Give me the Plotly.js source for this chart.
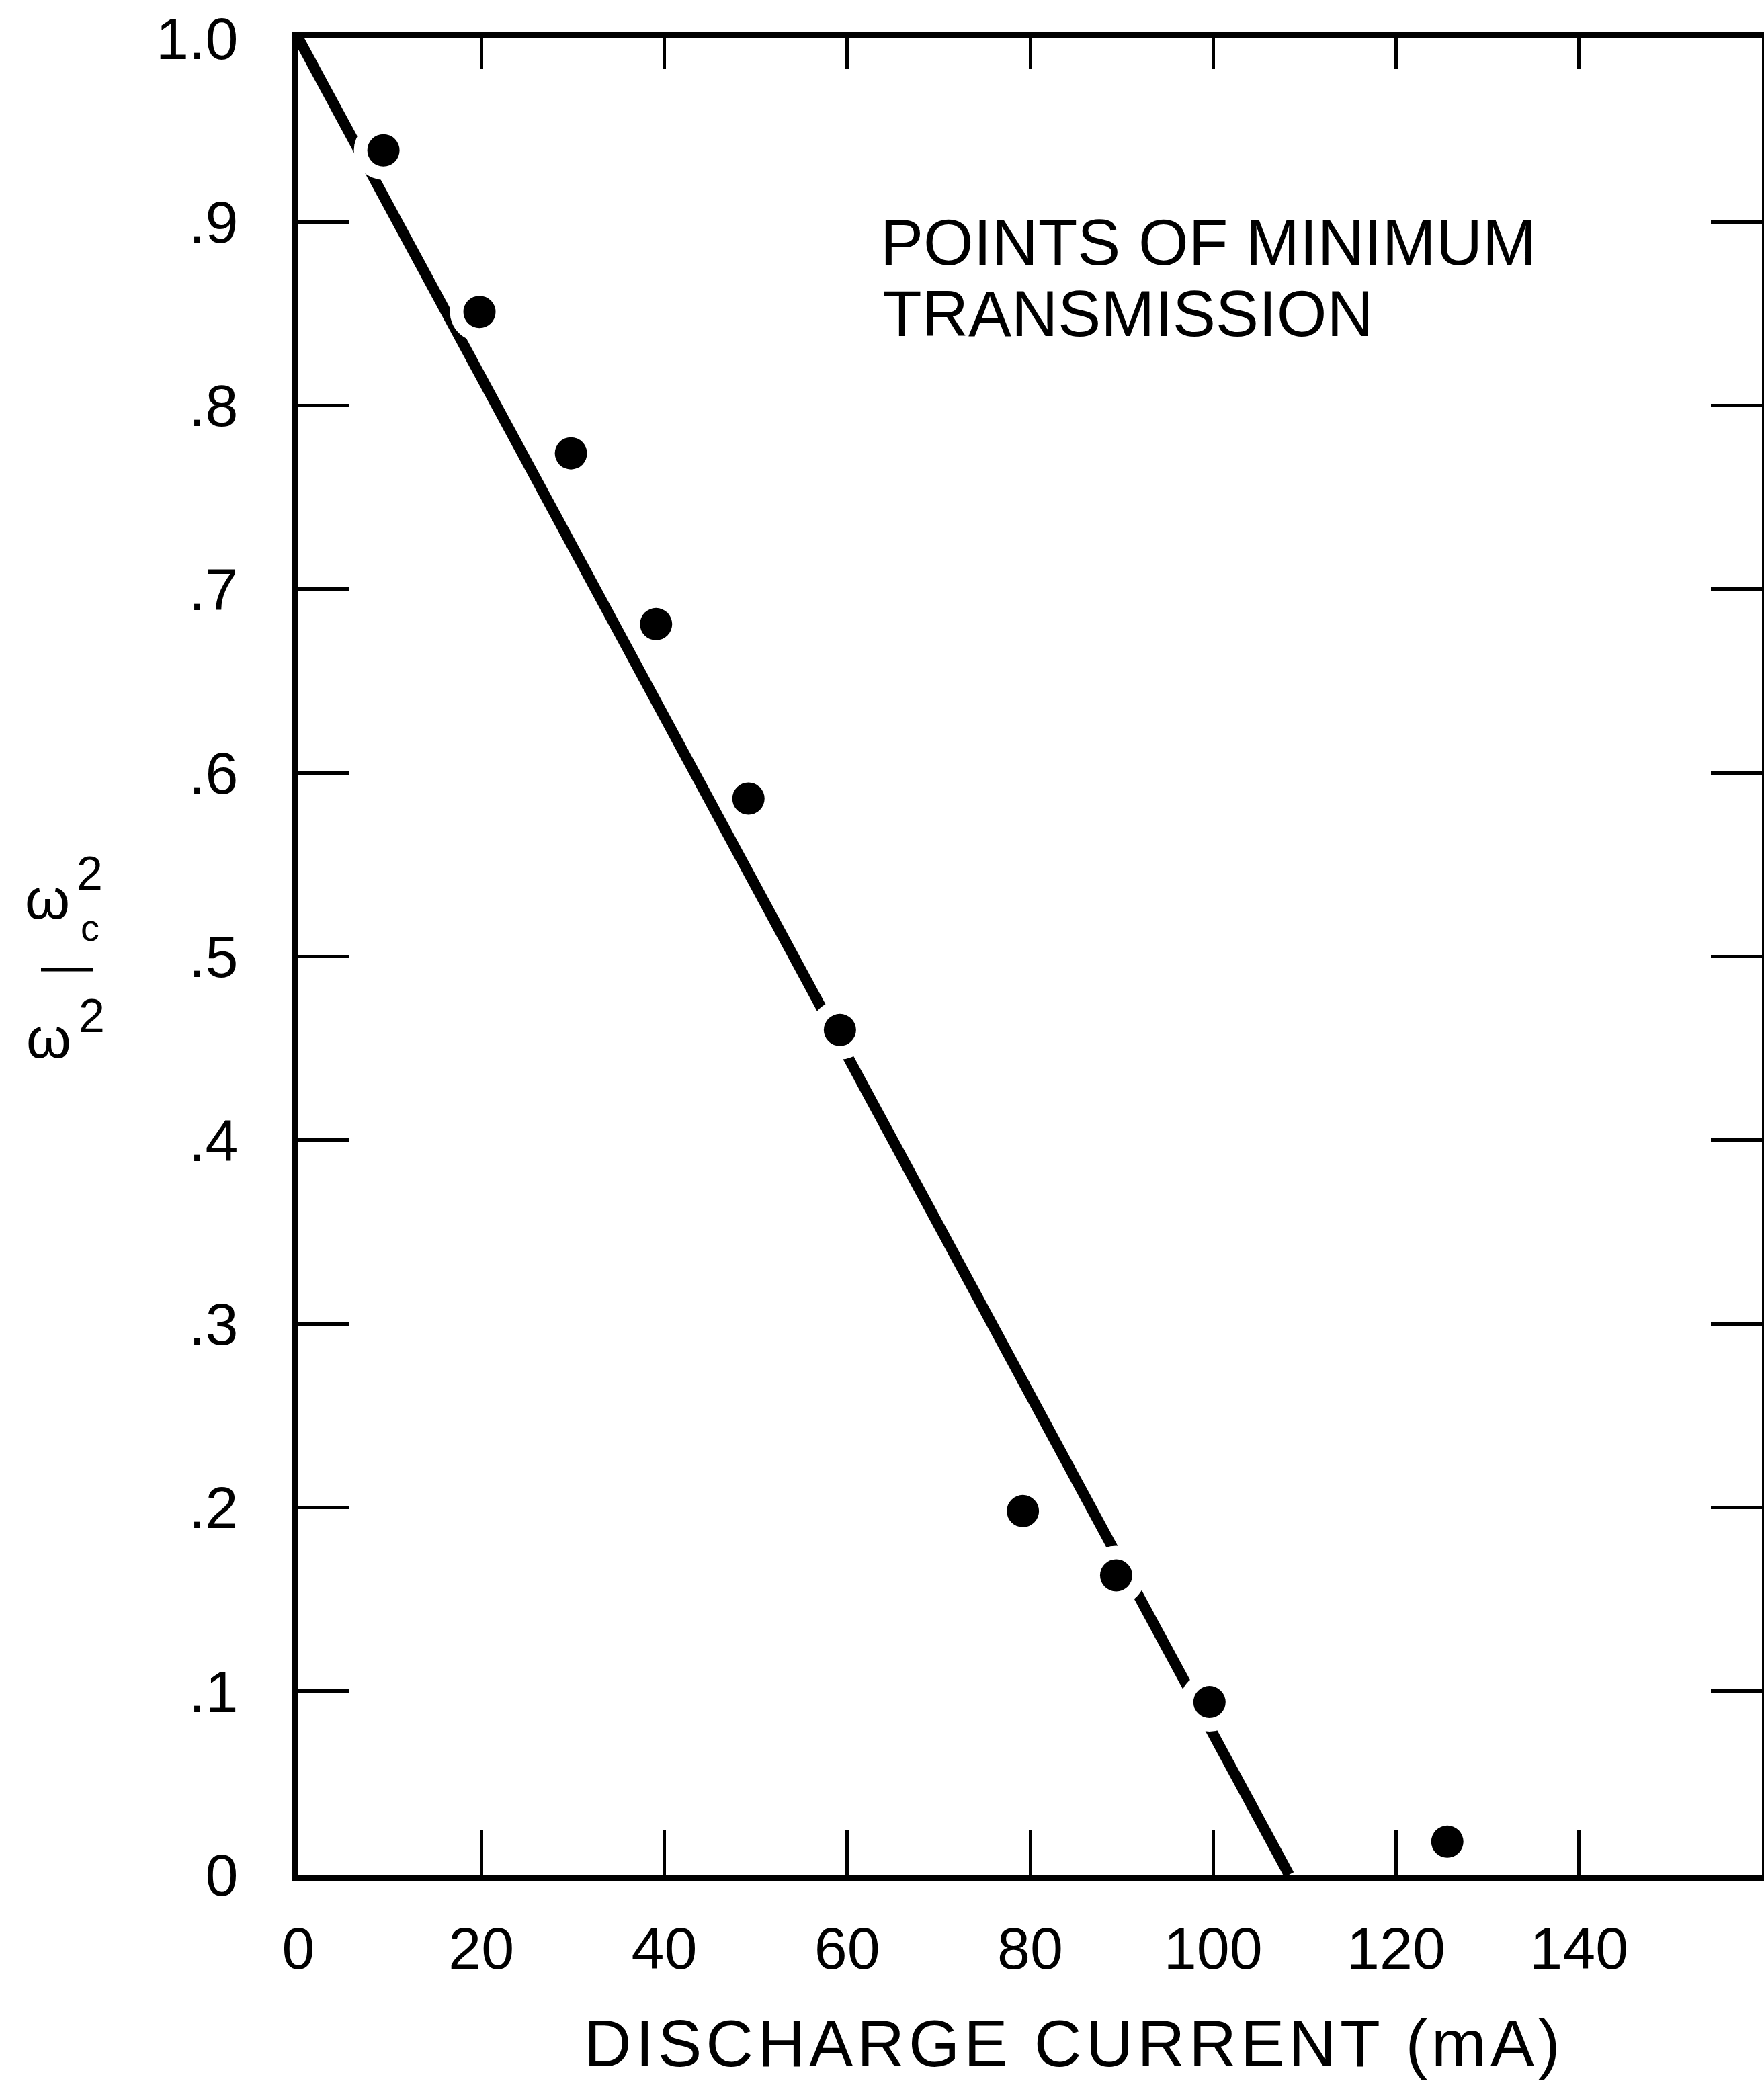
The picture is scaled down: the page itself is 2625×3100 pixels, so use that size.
<!DOCTYPE html>
<html><head><meta charset="utf-8">
<script src="https://cdn.plot.ly/plotly-3.0.1.min.js"></script>
<style>html,body{margin:0;padding:0;background:#fff}</style>
</head><body>
<div id="chart" style="width:2625px;height:3100px"></div>
<script>
const currentMA = [9.3, 19.8, 29.8, 39.1, 49.2, 59.2, 79.2, 89.4, 99.6, 125.6];
const freqRatio = [0.939, 0.851, 0.774, 0.681, 0.586, 0.460, 0.198, 0.163, 0.094, 0.018];
// Straight-line fit drawn through the points
const fitCurrent = [0, 108.3];
const fitRatio = [1.0, 0.0];
// Tick labels
const xTickVals = [0, 20, 40, 60, 80, 100, 120, 140];
const xTickText = ['0', '20', '40', '60', '80', '100', '120', '140'];
const yTickVals = [0, 0.1, 0.2, 0.3, 0.4, 0.5, 0.6, 0.7, 0.8, 0.9, 1.0];
const yTickText = ['0', '.1', '.2', '.3', '.4', '.5', '.6', '.7', '.8', '.9', '1.0'];

const FONT = 'Liberation Sans, Arial, Helvetica, sans-serif';
const ML = 444, MR = 3, MT = 57, MB = 310, W = 2625, H = 3100;

const traces = [
  {x: fitCurrent, y: fitRatio, mode: 'lines', line: {color: '#000', width: 16}, hoverinfo: 'skip'},
  {x: currentMA, y: freqRatio, mode: 'markers', marker: {color: '#fff', size: 88, line: {width: 0}}, hoverinfo: 'skip'},
  {x: currentMA, y: freqRatio, mode: 'markers', marker: {color: '#000', size: 48, line: {width: 0}}}
];

const P = (px) => (px - ML) / (W - ML - MR);
const Q = (py) => (H - MB - py) / (H - MT - MB);

const axisCommon = {
  tickmode: 'array', ticks: 'inside', tickwidth: 5, tickcolor: '#000',
  showline: true, linewidth: 10, linecolor: '#000',
  showgrid: false, zeroline: false, tickfont: {family: FONT, size: 88, color: '#000'}
};

const layout = {
  width: W, height: H,
  margin: {l: ML, r: MR, t: MT, b: MB, pad: 0},
  paper_bgcolor: '#fff', plot_bgcolor: '#fff',
  showlegend: false,
  font: {family: FONT, color: '#000'},
  xaxis: Object.assign({}, axisCommon, {range: [0, 160], tickvals: xTickVals, ticktext: xTickText, ticklen: 67, ticklabelstandoff: 24, mirror: true}),
  xaxis2: {overlaying: 'x', side: 'top', range: [0, 160], tickmode: 'array', tickvals: xTickVals, ticks: 'inside', ticklen: 45, tickwidth: 5, tickcolor: '#000', showticklabels: false, showline: false, showgrid: false, zeroline: false},
  yaxis: Object.assign({}, axisCommon, {range: [0, 1], tickvals: yTickVals, ticktext: yTickText, ticklen: 76, ticklabelstandoff: 62, mirror: 'ticks'}),
  annotations: [
    {text: 'POINTS OF MINIMUM', xref: 'paper', yref: 'paper', x: P(1308), y: Q(361), xanchor: 'left', yanchor: 'middle', showarrow: false, font: {family: FONT, size: 96, color: '#000'}},
    {text: 'TRANSMISSION', xref: 'paper', yref: 'paper', x: P(1311), y: Q(467), xanchor: 'left', yanchor: 'middle', showarrow: false, font: {family: FONT, size: 96, color: '#000'}},
    {text: 'DISCHARGE CURRENT (mA)', xref: 'paper', yref: 'paper', x: P(1598), y: Q(3098), xanchor: 'center', yanchor: 'bottom', showarrow: false, font: {family: FONT, size: 98, color: '#000'}},
    {text: 'ω', xref: 'paper', yref: 'paper', x: P(70), y: Q(1337), xanchor: 'center', yanchor: 'middle', showarrow: false, font: {family: FONT, size: 86, color: '#000'}},
    {text: '2', xref: 'paper', yref: 'paper', x: P(134), y: Q(1300), xanchor: 'center', yanchor: 'middle', showarrow: false, font: {family: FONT, size: 70, color: '#000'}},
    {text: 'c', xref: 'paper', yref: 'paper', x: P(134), y: Q(1380), xanchor: 'center', yanchor: 'middle', showarrow: false, font: {family: FONT, size: 56, color: '#000'}},
    {text: 'ω', xref: 'paper', yref: 'paper', x: P(72), y: Q(1544), xanchor: 'center', yanchor: 'middle', showarrow: false, font: {family: FONT, size: 86, color: '#000'}},
    {text: '2', xref: 'paper', yref: 'paper', x: P(136), y: Q(1512), xanchor: 'center', yanchor: 'middle', showarrow: false, font: {family: FONT, size: 70, color: '#000'}}
  ],
  shapes: [
    {type: 'line', xref: 'paper', yref: 'paper', x0: P(61), x1: P(138), y0: Q(1443), y1: Q(1443), line: {color: '#000', width: 5}}
  ]
};

// an invisible trace so the top (mirror-tick) axis is drawn
traces.push({x: [0], y: [0], xaxis: 'x2', mode: 'markers', marker: {opacity: 0}, hoverinfo: 'skip'});

Plotly.newPlot('chart', traces, layout, {staticPlot: true, displayModeBar: false}).then(function () {
  // widen the letter spacing of the axis caption as in the typeset original
  document.querySelectorAll('.annotation-text').forEach(function (t) {
    if (t.textContent === 'DISCHARGE CURRENT (mA)') t.setAttribute('letter-spacing', '6');
  });
});
</script>
</body></html>
